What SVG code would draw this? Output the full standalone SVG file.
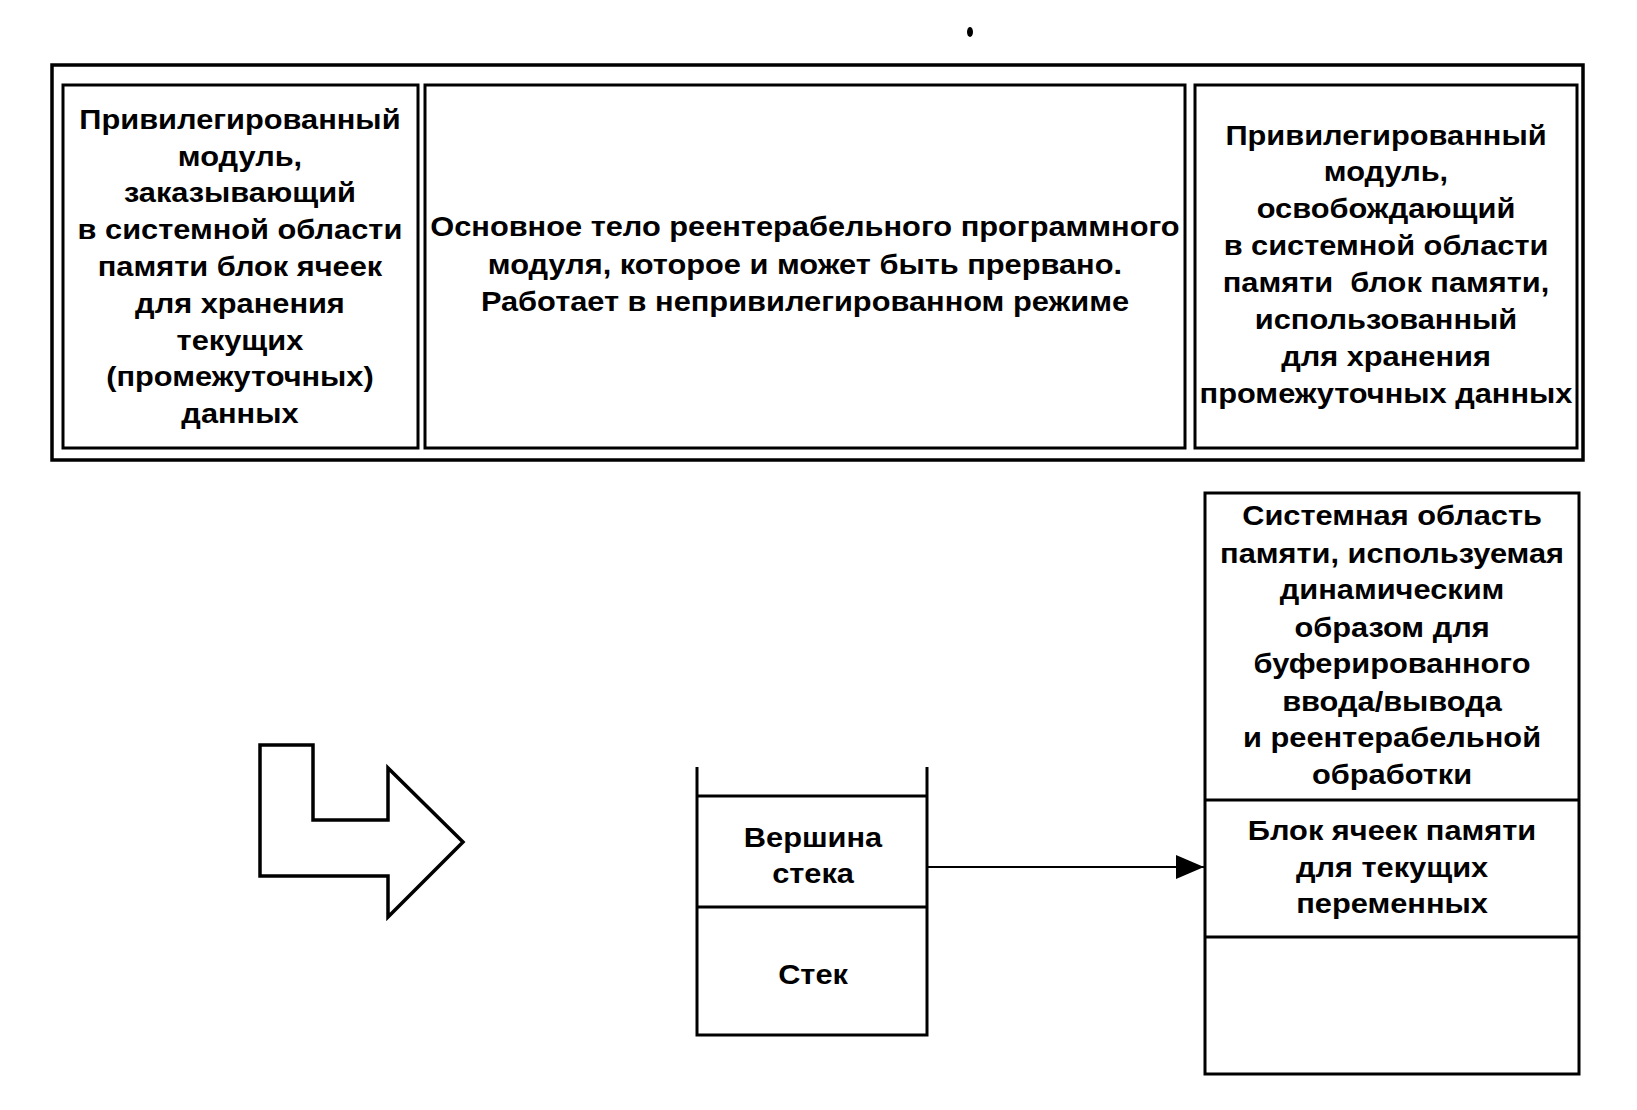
<svg xmlns="http://www.w3.org/2000/svg" width="1637" height="1110" viewBox="0 0 1637 1110">
<style>
.box{fill:none;stroke:#000;stroke-width:3}
.frame{fill:none;stroke:#000;stroke-width:3.5}
.t{font-family:"Liberation Sans",Arial,sans-serif;font-size:27px;font-weight:bold;fill:#000;text-anchor:middle}
.ln{fill:none;stroke:#000;stroke-width:2}
</style>
<defs>
<marker id="ah" viewBox="0 0 28 24" refX="28" refY="12" markerWidth="28" markerHeight="24" markerUnits="userSpaceOnUse" orient="auto">
<path d="M0,0 L28,12 L0,24 Z" fill="#000"/>
</marker>
</defs>
<rect width="1637" height="1110" fill="#fff"/>
<ellipse cx="970" cy="32" rx="3" ry="5" fill="#000"/>
<rect class="frame" x="52" y="65" width="1531" height="395"/>
<g id="left-module">
<rect class="box" x="63" y="85" width="355" height="363"/>
<g transform="scale(1.14 1)">
<text class="t" x="210.5" y="129">Привилегированный</text>
<text class="t" x="210.5" y="166">модуль,</text>
<text class="t" x="210.5" y="202">заказывающий</text>
<text class="t" x="210.5" y="239">в системной области</text>
<text class="t" x="210.5" y="276">памяти блок ячеек</text>
<text class="t" x="210.5" y="313">для хранения</text>
<text class="t" x="210.5" y="350">текущих</text>
<text class="t" x="210.5" y="386">(промежуточных)</text>
<text class="t" x="210.5" y="423">данных</text>
</g>
</g>
<g id="main-body">
<rect class="box" x="425" y="85" width="760" height="363"/>
<g transform="scale(1.14 1)">
<text class="t" x="706.1" y="236">Основное тело реентерабельного программного</text>
<text class="t" x="706.1" y="274">модуля, которое и может быть прервано.</text>
<text class="t" x="706.1" y="311">Работает в непривилегированном режиме</text>
</g>
</g>
<g id="right-module">
<rect class="box" x="1195" y="85" width="382" height="363"/>
<g transform="scale(1.14 1)">
<text class="t" x="1215.8" y="145">Привилегированный</text>
<text class="t" x="1215.8" y="181">модуль,</text>
<text class="t" x="1215.8" y="218">освобождающий</text>
<text class="t" x="1215.8" y="255">в системной области</text>
<text class="t" x="1215.8" y="292" xml:space="preserve">памяти  блок памяти,</text>
<text class="t" x="1215.8" y="329">использованный</text>
<text class="t" x="1215.8" y="366">для хранения</text>
<text class="t" x="1215.8" y="403">промежуточных данных</text>
</g>
</g>
<g id="big-arrow">
<path d="M260,745 L313,745 L313,820 L388,820 L388,768 L463,842 L388,917 L388,876 L260,876 Z" fill="none" stroke="#000" stroke-width="3.5" stroke-linejoin="miter"/>
</g>
<g id="stack">
<path class="box" d="M697,767 L697,1035 L927,1035 L927,767 M697,796 L927,796 M697,907 L927,907"/>
<g transform="scale(1.14 1)">
<text class="t" x="713.2" y="847">Вершина</text>
<text class="t" x="713.2" y="883">стека</text>
<text class="t" x="713.2" y="984">Стек</text>
</g>
</g>
<g id="system-area">
<rect class="box" x="1205" y="493" width="374" height="581"/>
<path class="box" d="M1205,800 L1579,800 M1205,937 L1579,937"/>
<g transform="scale(1.14 1)">
<text class="t" x="1221.1" y="525">Системная область</text>
<text class="t" x="1221.1" y="563">памяти, используемая</text>
<text class="t" x="1221.1" y="599">динамическим</text>
<text class="t" x="1221.1" y="637">образом для</text>
<text class="t" x="1221.1" y="673">буферированного</text>
<text class="t" x="1221.1" y="711">ввода/вывода</text>
<text class="t" x="1221.1" y="747">и реентерабельной</text>
<text class="t" x="1221.1" y="784">обработки</text>
<text class="t" x="1221.1" y="840">Блок ячеек памяти</text>
<text class="t" x="1221.1" y="877">для текущих</text>
<text class="t" x="1221.1" y="913">переменных</text>
</g>
</g>
<g id="connectors">
<line class="ln" x1="928" y1="867" x2="1204" y2="867" marker-end="url(#ah)"/>
</g>
</svg>
